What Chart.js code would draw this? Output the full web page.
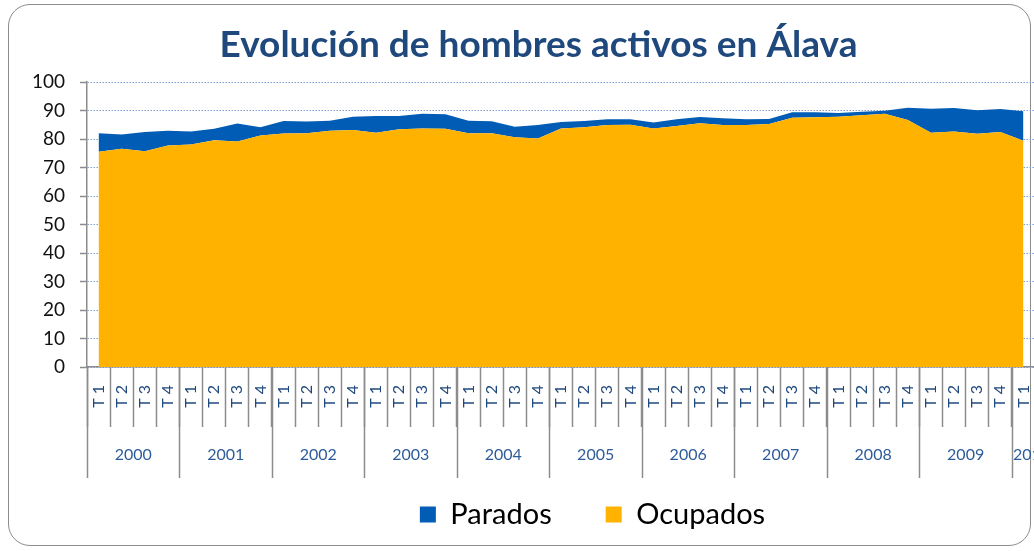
<!DOCTYPE html>
<html>
<head>
<meta charset="utf-8">
<script src="https://cdn.jsdelivr.net/npm/chart.js@4.4.1/dist/chart.umd.min.js"></script>
<style>
  html, body { margin:0; padding:0; background:#fff; overflow:hidden; width:1034px; height:551px; }
  #frame { position:absolute; left:8px; top:4px; width:1023px; height:542px; border:1.5px solid #8c8c8c; border-radius:22px; box-sizing:border-box; }
  #wrap { position:absolute; left:0; top:0; width:1078px; height:551px; }
</style>
</head>
<body>
<div id="frame"></div>
<div id="wrap"><canvas id="c" width="1078" height="551"></canvas></div>
<script>
const chartTitle = 'Evolución de hombres activos en Álava';
const years = ['2000','2001','2002','2003','2004','2005','2006','2007','2008','2009','2010'];
const categories = [
  'T 1','T 2','T 3','T 4', 'T 1','T 2','T 3','T 4', 'T 1','T 2','T 3','T 4',
  'T 1','T 2','T 3','T 4', 'T 1','T 2','T 3','T 4', 'T 1','T 2','T 3','T 4',
  'T 1','T 2','T 3','T 4', 'T 1','T 2','T 3','T 4', 'T 1','T 2','T 3','T 4',
  'T 1','T 2','T 3','T 4', 'T 1'
];
const ocupados = [
  75.5, 76.6, 75.7, 77.7, 78.1, 79.6, 79.1, 81.2, 81.9, 82.0, 82.9, 83.2,
  82.2, 83.4, 83.7, 83.6, 82.0, 82.0, 80.6, 80.2, 83.7, 84.1, 84.9, 85.0,
  83.7, 84.6, 85.5, 84.9, 84.9, 85.3, 87.5, 87.6, 87.8, 88.3, 88.9, 86.7,
  82.2, 82.6, 81.8, 82.5, 79.4
];
const parados = [
  6.5, 5.0, 6.8, 5.2, 4.5, 4.0, 6.3, 2.9, 4.4, 4.1, 3.5, 4.6,
  5.9, 4.7, 5.2, 5.1, 4.4, 4.2, 3.7, 4.7, 2.3, 2.2, 2.0, 1.9,
  2.1, 2.3, 2.2, 2.4, 2.0, 1.7, 1.9, 1.8, 1.3, 1.3, 1.0, 4.3,
  8.4, 8.3, 8.3, 8.0, 10.3
];
const yTicks = [0,10,20,30,40,50,60,70,80,90,100];

const FONT = 'Lato, "Open Sans", sans-serif';
const AXIS_GRAY = '#8c8c8c';

const yearPlugin = {
  id: 'yearGroups',
  afterLayout(chart) {
    chart.legend.left += 75;
    chart.legend.right += 75;
    chart.titleBlock.left += 21;
    chart.titleBlock.right += 21;
  },
  afterDraw(chart) {
    const xs = chart.scales.x;
    const ctx = chart.ctx;
    const w = xs.getPixelForValue(1) - xs.getPixelForValue(0);
    ctx.save();
    ctx.strokeStyle = AXIS_GRAY;
    ctx.lineWidth = 1.5;
    ctx.fillStyle = '#2E5C9A';
    ctx.font = '16px ' + FONT;
    ctx.textBaseline = 'middle';
    ctx.textAlign = 'center';
    let start = 0, yi = 0;
    for (let i = 1; i <= categories.length; i++) {
      if (i === categories.length || categories[i] === 'T 1') {
        const left = xs.getPixelForValue(start) - w / 2;
        const right = xs.getPixelForValue(i - 1) + w / 2;
        ctx.beginPath();
        ctx.moveTo(Math.round(left) + 0.5, xs.top);
        ctx.lineTo(Math.round(left) + 0.5, xs.top + 111);
        ctx.stroke();
        const txt = years[yi];
        const tw = ctx.measureText(txt).width;
        const cx = Math.max((left + right) / 2, left + tw / 2 + 1);
        ctx.fillText(txt, cx, xs.top + 88);
        start = i; yi++;
      }
    }
    ctx.restore();
  }
};

new Chart(document.getElementById('c'), {
  type: 'line',
  data: {
    labels: categories,
    datasets: [
      { label: 'Ocupados', data: ocupados, backgroundColor: '#FFB300', borderColor: '#FFB300',
        borderWidth: 0, pointRadius: 0, fill: 'origin', tension: 0 },
      { label: 'Parados', data: parados, backgroundColor: '#005CB4', borderColor: '#005CB4',
        borderWidth: 0, pointRadius: 0, fill: '-1', tension: 0 }
    ]
  },
  options: {
    responsive: false,
    animation: false,
    devicePixelRatio: 1,
    layout: { padding: { left: 0, right: 43, top: 0, bottom: 12 } },
    plugins: {
      title: {
        display: true, text: chartTitle, color: '#1F497D',
        font: { family: FONT, size: 37, weight: 'bold' },
        padding: { top: 23, bottom: 14.6 }
      },
      legend: {
        position: 'bottom', reverse: true,
        labels: { boxWidth: 16, boxHeight: 16, padding: 54, color: '#000',
          font: { family: FONT, size: 29 } }
      },
      tooltip: { enabled: false }
    },
    scales: {
      x: {
        type: 'category', offset: true,
        grid: { display: true, drawOnChartArea: false, drawTicks: true, tickLength: 60, offset: true,
          tickColor: AXIS_GRAY, tickWidth: 1.5 },
        border: { display: true, color: AXIS_GRAY, width: 1.5 },
        ticks: { autoSkip: false, minRotation: 90, maxRotation: 90, padding: -42,
          font: { family: FONT, size: 16 }, color: '#1F497D' },
        afterFit: s => { s.height = 79; }
      },
      y: {
        stacked: true, min: 0, max: 100,
        afterBuildTicks: s => { s.ticks = yTicks.map(v => ({ value: v })); },
        ticks: { padding: 15, font: { family: FONT, size: 19 }, color: '#111' },
        grid: { color: '#7F9ED6', lineWidth: 1, tickLength: 7, tickColor: AXIS_GRAY, tickWidth: 1.5 },
        border: { display: true, color: AXIS_GRAY, width: 1.5, dash: [1.5, 1.5] },
        afterFit: s => { s.width = 87; }
      }
    }
  },
  plugins: [yearPlugin]
});
</script>
</body>
</html>
